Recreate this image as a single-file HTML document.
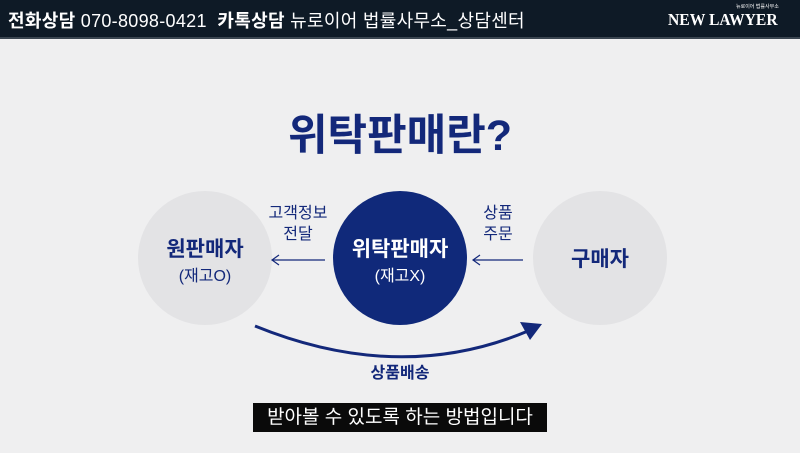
<!DOCTYPE html>
<html><head><meta charset="utf-8"><style>
body{margin:0;width:800px;height:453px;overflow:hidden;background:#efeff0;font-family:"Liberation Sans","Noto Sans CJK KR",sans-serif;position:relative}
.hdr{position:absolute;left:0;top:0;width:800px;height:37px;background:#0e1a26;border-bottom:2px solid #3a4550;color:#fff}
.t{position:absolute;white-space:nowrap}
</style></head><body>
<div class="hdr">
<div class="t" style="left:8px;top:7px;font-size:18px;letter-spacing:0.3px"><b>전화상담</b> 070-8098-0421 &nbsp;<b>카톡상담</b> 뉴로이어 법률사무소_상담센터</div>
<div class="t" style="left:736px;top:3px;font-size:5px;">뉴로이어 법률사무소</div>
<div class="t" style="left:668px;top:10px;font-size:17px;font-family:'Liberation Serif',serif;font-weight:bold;transform:scaleX(0.92);transform-origin:left">NEW LAWYER</div>
</div>
<div class="t" style="left:0;width:800px;text-align:center;top:101px;font-size:43px;font-weight:bold;color:#13287a">위탁판매란?</div>
<svg width="800" height="453" style="position:absolute;left:0;top:0">
<circle cx="205" cy="258" r="67" fill="#e3e3e5"/>
<circle cx="400" cy="258" r="67" fill="#10297a"/>
<circle cx="600" cy="258" r="67" fill="#e3e3e5"/>
<line x1="325" y1="260" x2="272" y2="260" stroke="#13287a" stroke-width="1.2"/>
<polyline points="279,255 272,260 279,265" fill="none" stroke="#13287a" stroke-width="1.2"/>
<line x1="523" y1="260" x2="473" y2="260" stroke="#13287a" stroke-width="1.2"/>
<polyline points="480,255 473,260 480,265" fill="none" stroke="#13287a" stroke-width="1.2"/>
<path d="M255 326 Q400 385 528 331" fill="none" stroke="#13287a" stroke-width="3"/>
<polygon points="542,324 520,322 530,340" fill="#13287a"/>
</svg>
<div class="t" style="left:138px;width:134px;text-align:center;top:233px;font-size:21px;font-weight:bold;color:#13287a">원판매자</div>
<div class="t" style="left:138px;width:134px;text-align:center;top:262px;font-size:16px;color:#13287a">(재고O)</div>
<div class="t" style="left:333px;width:134px;text-align:center;top:233px;font-size:21px;font-weight:bold;color:#fff">위탁판매자</div>
<div class="t" style="left:333px;width:134px;text-align:center;top:262px;font-size:16px;color:#fff">(재고X)</div>
<div class="t" style="left:533px;width:134px;text-align:center;top:243px;font-size:21px;font-weight:bold;color:#13287a">구매자</div>
<div class="t" style="left:258px;width:80px;text-align:center;top:203px;font-size:16px;line-height:21px;color:#13287a">고객정보<br>전달</div>
<div class="t" style="left:463px;width:70px;text-align:center;top:203px;font-size:16px;line-height:21px;color:#13287a">상품<br>주문</div>
<div class="t" style="left:330px;width:140px;text-align:center;top:359px;font-size:16px;font-weight:bold;color:#13287a">상품배송</div>
<div class="t" style="left:253px;top:403px;width:294px;height:29px;background:#0a0a0a;color:#fff;font-size:19px;line-height:29px;text-align:center">받아볼 수 있도록 하는 방법입니다</div>
</body></html>
